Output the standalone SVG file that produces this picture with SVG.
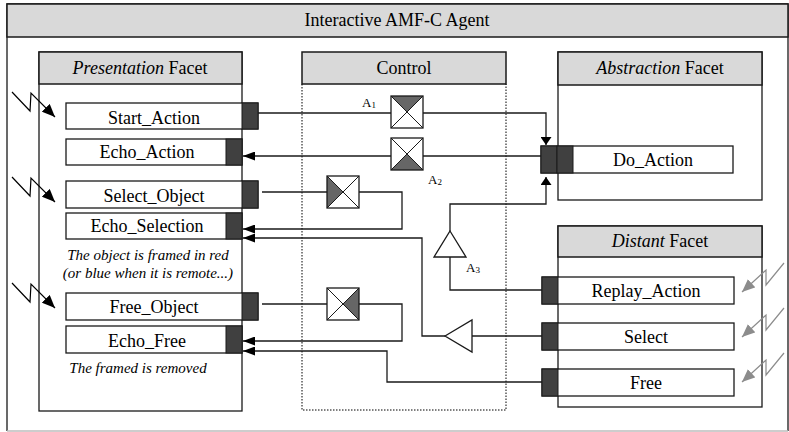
<svg xmlns="http://www.w3.org/2000/svg" width="789" height="432" viewBox="0 0 789 432">
<style>
.box{fill:#fff;stroke:#1a1a1a;stroke-width:1.3}
.hdr{fill:#d9d9d9;stroke:#1a1a1a;stroke-width:1.5}
.port{fill:#404040;stroke:#1a1a1a;stroke-width:1}
.tri{fill:#666;stroke:none}
.diag{stroke:#1a1a1a;stroke-width:1;fill:none}
.lbl{font-family:"Liberation Serif","Times New Roman",serif;font-size:18px;fill:#000;text-anchor:middle}
.note{font-family:"Liberation Serif","Times New Roman",serif;font-size:15px;font-style:italic;fill:#000;text-anchor:middle}
.sm{font-family:"Liberation Serif","Times New Roman",serif;font-size:13px;fill:#000}
.conn{fill:none;stroke:#1a1a1a;stroke-width:1.3}
.bolt{fill:none;stroke:#000;stroke-width:1.2}
.boltg{fill:none;stroke:#8c8c8c;stroke-width:1.2}
.dot{fill:none;stroke:#000;stroke-width:1;stroke-dasharray:1.5 1.5}
</style>
<defs>
<marker id="arr" markerUnits="userSpaceOnUse" markerWidth="12" markerHeight="9" viewBox="0 0 12 9" refX="12" refY="4.5" orient="auto"><path d="M0,0 L12,4.5 L0,9 z" fill="#000"/></marker>
<marker id="arrS" markerUnits="userSpaceOnUse" markerWidth="8" markerHeight="11" viewBox="0 0 8 11" refX="8" refY="5.5" orient="auto"><path d="M0,0 L8,5.5 L0,11 z" fill="#000"/></marker>
<marker id="bk" markerUnits="userSpaceOnUse" markerWidth="13" markerHeight="11" viewBox="0 0 13 11" refX="13" refY="5.5" orient="auto"><path d="M0,0 L13,5.5 L0,11 z" fill="#000"/></marker>
<marker id="gy" markerUnits="userSpaceOnUse" markerWidth="13" markerHeight="11" viewBox="0 0 13 11" refX="13" refY="5.5" orient="auto"><path d="M0,0 L13,5.5 L0,11 z" fill="#8c8c8c"/></marker>
</defs>

<g id="agent">
<rect x="7" y="4" width="781" height="427" fill="#fff" stroke="none"/>
<path d="M7,431 L7,4 L788,4 L788,431" fill="none" stroke="#1a1a1a" stroke-width="1.3"/>
<line x1="7" y1="431" x2="788" y2="431" stroke="#bdbdbd" stroke-width="1.3"/>
<rect x="7" y="4" width="781" height="33" class="hdr"/>
<text x="397" y="26" class="lbl">Interactive AMF-C Agent</text>
</g>

<g id="presentation">
<rect x="39" y="52" width="203" height="359" class="box"/>
<rect x="39" y="52" width="203" height="32" class="hdr"/>
<text x="140" y="74" class="lbl"><tspan font-style="italic">Presentation</tspan> Facet</text>
</g>

<g id="control">
<rect x="302" y="52" width="204" height="32" class="hdr"/>
<path d="M302,84 L302,410 L506,410 L506,84" class="dot"/>
<text x="404" y="74" class="lbl">Control</text>
</g>

<g id="abstraction">
<rect x="558" y="52" width="204" height="148" class="box"/>
<rect x="558" y="52" width="204" height="33" class="hdr"/>
<text x="660" y="74" class="lbl"><tspan font-style="italic">Abstraction</tspan> Facet</text>
</g>

<g id="distant">
<rect x="558" y="226" width="204" height="181" class="box"/>
<rect x="558" y="226" width="204" height="31" class="hdr" stroke-width="2"/>
<text x="660" y="247" class="lbl"><tspan font-style="italic">Distant</tspan> Facet</text>
</g>

<g id="start_action">
<rect x="66" y="103" width="192" height="26" class="box"/>
<rect x="242" y="103" width="16" height="26" class="port"/>
<text x="154" y="124" class="lbl">Start_Action</text>
</g>
<g id="echo_action">
<rect x="66" y="139" width="176" height="26" class="box"/>
<rect x="226" y="139" width="16" height="26" class="port"/>
<text x="147" y="158" class="lbl">Echo_Action</text>
</g>
<g id="select_object">
<rect x="66" y="181" width="192" height="27" class="box"/>
<rect x="242" y="181" width="16" height="27" class="port"/>
<text x="154" y="202" class="lbl">Select_Object</text>
</g>
<g id="echo_selection">
<rect x="66" y="213" width="176" height="26" class="box"/>
<rect x="226" y="213" width="16" height="26" class="port"/>
<text x="147" y="232" class="lbl">Echo_Selection</text>
</g>
<g id="note_select">
<text x="148" y="260" class="note">The object is framed in red</text>
<text x="148" y="278" class="note">(or blue when it is remote...)</text>
</g>
<g id="free_object">
<rect x="66" y="293" width="192" height="27" class="box"/>
<rect x="242" y="293" width="16" height="27" class="port"/>
<text x="154" y="313" class="lbl">Free_Object</text>
</g>
<g id="echo_free">
<rect x="66" y="326" width="176" height="27" class="box"/>
<rect x="226" y="326" width="16" height="27" class="port"/>
<text x="147" y="347" class="lbl">Echo_Free</text>
</g>
<g id="note_free">
<text x="138" y="373" class="note">The framed is removed</text>
</g>

<g id="do_action">
<rect x="541" y="146" width="192" height="27" class="box"/>
<rect x="541" y="146" width="16" height="27" class="port"/>
<rect x="557" y="146" width="16" height="27" class="port"/>
<text x="653" y="166" class="lbl">Do_Action</text>
</g>

<g id="replay_action">
<rect x="542" y="277" width="192" height="27" class="box"/>
<rect x="542" y="277" width="16" height="27" class="port"/>
<text x="646" y="297" class="lbl">Replay_Action</text>
</g>
<g id="select">
<rect x="542" y="323" width="192" height="27" class="box"/>
<rect x="542" y="323" width="16" height="27" class="port"/>
<text x="646" y="343" class="lbl">Select</text>
</g>
<g id="free">
<rect x="542" y="369" width="192" height="27" class="box"/>
<rect x="542" y="369" width="16" height="27" class="port"/>
<text x="646" y="389" class="lbl">Free</text>
</g>

<g id="a1">
<rect x="391" y="96" width="32" height="32" fill="#fff"/>
<polygon points="391,96 423,96 407,112" class="tri"/>
<path d="M391,96 L423,128 M423,96 L391,128" class="diag"/>
<rect x="391" y="96" width="32" height="32" fill="none" stroke="#1a1a1a" stroke-width="1.3"/>
<text x="362" y="107" class="sm">A<tspan font-size="9" dy="1">1</tspan></text>
</g>
<g id="a2">
<rect x="391" y="138" width="32" height="32" fill="#fff"/>
<polygon points="391,170 423,170 407,154" class="tri"/>
<path d="M391,138 L423,170 M423,138 L391,170" class="diag"/>
<rect x="391" y="138" width="32" height="32" fill="none" stroke="#1a1a1a" stroke-width="1.3"/>
<text x="428" y="184" class="sm">A<tspan font-size="9" dy="1">2</tspan></text>
</g>
<g id="select_gate">
<rect x="327" y="176" width="32" height="32" fill="#fff"/>
<polygon points="327,176 327,208 343,192" class="tri"/>
<path d="M327,176 L359,208 M359,176 L327,208" class="diag"/>
<rect x="327" y="176" width="32" height="32" fill="none" stroke="#1a1a1a" stroke-width="1.3"/>
</g>
<g id="free_gate">
<rect x="327" y="288" width="32" height="32" fill="#fff"/>
<polygon points="359,288 359,320 343,304" class="tri"/>
<path d="M327,288 L359,320 M359,288 L327,320" class="diag"/>
<rect x="327" y="288" width="32" height="32" fill="none" stroke="#1a1a1a" stroke-width="1.3"/>
</g>
<g id="a3">
<polygon points="450,231 466,257 434,257" fill="#fff" stroke="#1a1a1a" stroke-width="1.3"/>
<text x="466" y="272" class="sm">A<tspan font-size="9" dy="1">3</tspan></text>
</g>
<g id="select_tri">
<polygon points="445,336 472,320 472,352" fill="#fff" stroke="#1a1a1a" stroke-width="1.3"/>
</g>

<g id="connectors">
<path d="M258,113 L391,113" class="conn"/>
<path d="M423,113 L546,113 L546,145" class="conn" marker-end="url(#arrS)"/>
<path d="M541,156 L423,156" class="conn"/>
<path d="M391,156 L243,156" class="conn" marker-end="url(#arr)"/>
<path d="M262,192 L327,192" class="conn"/>
<path d="M359,192 L402,192 L402,229 L243,229" class="conn" marker-end="url(#arr)"/>
<path d="M542,336 L472,336" class="conn"/>
<path d="M445,336 L422,336 L422,238 L243,238" class="conn" marker-end="url(#arr)"/>
<path d="M542,290 L450,290 L450,257" class="conn"/>
<path d="M450,231 L450,204 L546,204 L546,177" class="conn" marker-end="url(#arrS)"/>
<path d="M262,304 L327,304" class="conn"/>
<path d="M359,304 L402,304 L402,341 L243,341" class="conn" marker-end="url(#arr)"/>
<path d="M542,382 L387,382 L387,351 L243,351" class="conn" marker-end="url(#arr)"/>
<path d="M12,92 L30,111 L31,93 L55,117" class="bolt" marker-end="url(#bk)"/>
<path d="M12,177 L30,196 L31,178 L55,202" class="bolt" marker-end="url(#bk)"/>
<path d="M12,283 L30,302 L31,284 L55,308" class="bolt" marker-end="url(#bk)"/>
<path d="M784,263 L766,285 L766,270 L742,292" class="boltg" marker-end="url(#gy)"/>
<path d="M784,308 L766,330 L766,315 L742,337" class="boltg" marker-end="url(#gy)"/>
<path d="M784,353 L766,375 L766,360 L742,382" class="boltg" marker-end="url(#gy)"/>
</g>
</svg>
